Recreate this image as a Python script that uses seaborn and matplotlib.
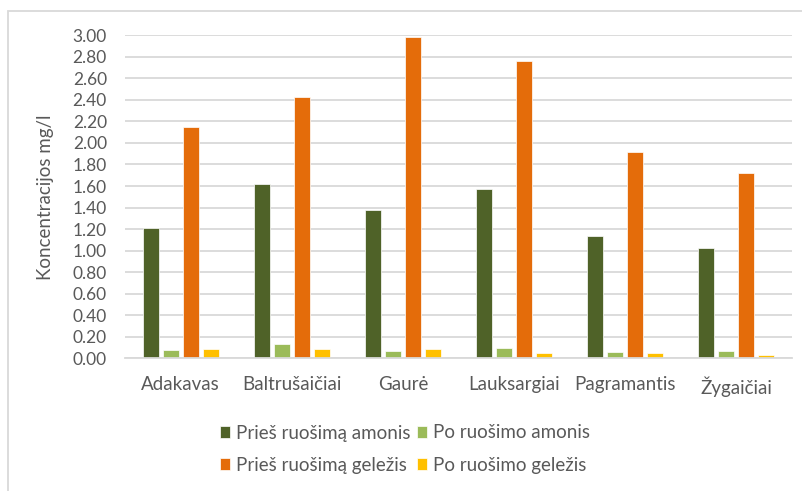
import matplotlib
matplotlib.use("Agg")
import matplotlib.pyplot as plt
import seaborn as sns
import pandas as pd
from matplotlib.patches import Rectangle

# Values (mg/l)
sites = ['Adakavas', 'Baltrušaičiai', 'Gaurė', 'Lauksargiai', 'Pagramantis', 'Žygaičiai']
series = ['Prieš ruošimą amonis', 'Po ruošimo amonis', 'Prieš ruošimą geležis', 'Po ruošimo geležis']
pries_amonis = [1.21, 1.62, 1.38, 1.57, 1.14, 1.02]
po_amonis = [0.08, 0.13, 0.07, 0.10, 0.06, 0.07]
pries_gelezis = [2.15, 2.43, 2.98, 2.76, 1.92, 1.72]
po_gelezis = [0.09, 0.09, 0.09, 0.05, 0.05, 0.03]
colors = ['#4F6228', '#9BBB59', '#E46C0A', '#FFC000']

df = pd.DataFrame({'site': sites * 4,
                   'series': [s for s in series for _ in sites],
                   'value': pries_amonis + po_amonis + pries_gelezis + po_gelezis})

sns.set_style('white')
plt.rcParams['font.family'] = ['Lato', 'DejaVu Sans']
txt = '#595959'

fig = plt.figure(figsize=(8.03, 4.91), dpi=100)
ax = fig.add_axes([125 / 803, 1 - 358.3 / 491, 667 / 803, 323 / 491])

sns.barplot(data=df, x='site', y='value', hue='series', hue_order=series,
            palette=colors, saturation=1, width=0.72, gap=0.2,
            edgecolor='white', linewidth=0.5, ax=ax, legend=True)

ax.set_ylim(0, 3.0)
ax.set_yticks([i * 0.2 for i in range(16)])
ax.set_yticklabels([f'{i * 0.2:.2f}' for i in range(16)])
ax.yaxis.grid(True, color='#D9D9D9', linewidth=1.3)
ax.set_axisbelow(True)
for s in ['top', 'right', 'left']:
    ax.spines[s].set_visible(False)
ax.spines['bottom'].set_color('#D9D9D9')
ax.spines['bottom'].set_linewidth(1.3)
ax.tick_params(axis='both', length=0, colors=txt)
ax.tick_params(axis='y', labelsize=12.5, pad=13)
ax.tick_params(axis='x', labelsize=13.5, pad=13)
ax.set_xlabel('')
ax.set_ylabel('')
fig.text(46 / 803, 1 - 197 / 491, 'Koncentracijos mg/l', rotation=90,
         ha='center', va='center', color=txt, fontsize=13.5)

# legend, two rows
handles, labels = ax.get_legend_handles_labels()
ax.get_legend().remove()
order = [0, 2, 1, 3]
leg = fig.legend([handles[i] for i in order], [labels[i] for i in order],
                 ncol=2, loc='center', bbox_to_anchor=(405 / 803, 1 - 449 / 491),
                 frameon=False, fontsize=13.5, labelcolor=txt,
                 handlelength=0.55, handleheight=0.55, handletextpad=0.35,
                 columnspacing=0.3, labelspacing=0.8)

# outer chart border
fig.patches.append(Rectangle((8 / 803, -0.1), 1.2, 1.1 - 11 / 491, transform=fig.transFigure,
                             fill=False, edgecolor='#D9D9D9', linewidth=1.3))

fig.savefig('out.png', dpi=100)
